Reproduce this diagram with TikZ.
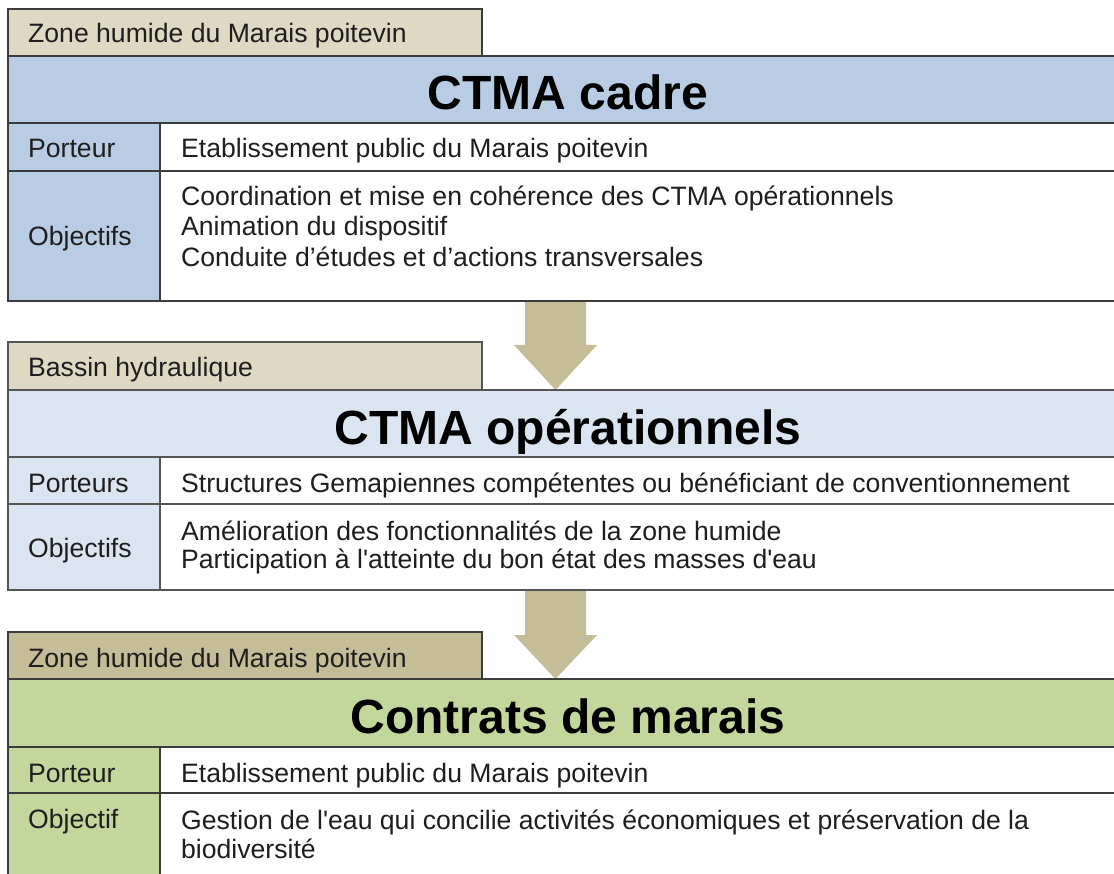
\documentclass[tikz,border=0pt]{standalone}
\usepackage{fontspec}
\setmainfont{Liberation Sans}[Ligatures=TeXOff]
\usetikzlibrary{calc}
\definecolor{tanA}{HTML}{DDD9C3}
\definecolor{tanB}{HTML}{C4BD97}
\definecolor{blueA}{HTML}{B8CCE4}
\definecolor{blueB}{HTML}{DBE5F1}
\definecolor{greenA}{HTML}{C3D69B}
\definecolor{arrowc}{HTML}{C4BD97}
\definecolor{linec}{HTML}{3C3C3C}
\definecolor{linec2}{HTML}{555555}
\definecolor{txt}{HTML}{1E1E1E}
\begin{document}
\begin{tikzpicture}[x=1pt,y=-1pt,
  box/.style={draw=linec, line width=1.8pt},
  box2/.style={draw=linec2, line width=1.8pt},
  lbl/.style={anchor=base west, inner sep=0pt, font=\fontsize{26.6}{30.5}\selectfont, text=txt},
  ttl/.style={anchor=base, inner sep=0pt, font=\fontsize{48}{52}\selectfont\bfseries, text=black},
  blockarrow/.style={fill=arrowc, draw=none},
]
\useasboundingbox (0,0) rectangle (1114,874);
\fill[white] (0,0) rectangle (1114,874);

% ---- arrows (drawn first, sections on top)
\coordinate (a1top) at (555.5,301);
\coordinate (a1tip) at (555.5,390);
\fill[blockarrow] ($(a1top)+(-30.5,0)$) -- ($(a1top)+(30.5,0)$) -- ($(a1top)+(30.5,44)$) -- ($(a1top)+(41.5,44)$) -- (a1tip) -- ($(a1top)+(-41.5,44)$) -- ($(a1top)+(-30.5,44)$) -- cycle;
\coordinate (a2top) at (555.5,590);
\coordinate (a2tip) at (555.5,679);
\fill[blockarrow] ($(a2top)+(-30.5,0)$) -- ($(a2top)+(30.5,0)$) -- ($(a2top)+(30.5,45)$) -- ($(a2top)+(41.5,45)$) -- (a2tip) -- ($(a2top)+(-41.5,45)$) -- ($(a2top)+(-30.5,45)$) -- cycle;

% ---- Section 1 : CTMA cadre
\draw[box, fill=tanA] (8,9) rectangle (482,56);
\draw[box, fill=blueA] (8,56) rectangle (1130,123);
\draw[box, fill=blueA] (8,123) rectangle (160,301);
\draw[box, fill=white] (160,123) rectangle (1130,171);
\draw[box, fill=white] (160,171) rectangle (1130,301);
\draw[box] (8,171) -- (160,171);
\node[lbl] (t1) at (28,43) {Zone humide du Marais poitevin};
\node[ttl] (h1) at (568,110) {CTMA cadre};
\node[lbl] (p1) at (28,158) {Porteur};
\node[lbl] (pv1) at (181,158) {Etablissement public du Marais poitevin};
\node[lbl] (o1) at (28,246) {Objectifs};
\node[lbl] (ov1a) at (181,206) {Coordination et mise en cohérence des CTMA opérationnels};
\node[lbl] (ov1b) at (181,236) {Animation du dispositif};
\node[lbl] (ov1c) at (181,267) {Conduite d’études et d’actions transversales};

% ---- Section 2 : CTMA opérationnels
\draw[box2, fill=tanA] (8,342) rectangle (482,390);
\draw[box2, fill=blueB] (8,390) rectangle (1130,457);
\draw[box2, fill=blueB] (8,457) rectangle (160,590);
\draw[box2, fill=white] (160,457) rectangle (1130,504);
\draw[box2, fill=white] (160,504) rectangle (1130,590);
\draw[box2] (8,504) -- (160,504);
\node[lbl] (t2) at (28,377) {Bassin hydraulique};
\node[ttl] (h2) at (568,445) {CTMA opérationnels};
\node[lbl] (p2) at (28,492) {Porteurs};
\node[lbl] (pv2) at (181,492) {Structures Gemapiennes compétentes ou bénéficiant de conventionnement};
\node[lbl] (o2) at (28,557) {Objectifs};
\node[lbl] (ov2a) at (181,540) {Amélioration des fonctionnalités de la zone humide};
\node[lbl] (ov2b) at (181,568) {Participation à l'atteinte du bon état des masses d'eau};

% ---- Section 3 : Contrats de marais
\draw[box, fill=tanB] (8,632) rectangle (482,679);
\draw[box, fill=greenA] (8,679) rectangle (1130,747);
\draw[box, fill=greenA] (8,747) rectangle (160,900);
\draw[box, fill=white] (160,747) rectangle (1130,793);
\draw[box, fill=white] (160,793) rectangle (1130,900);
\draw[box] (8,793) -- (160,793);
\node[lbl] (t3) at (28,667) {Zone humide du Marais poitevin};
\node[ttl] (h3) at (568,733) {Contrats de marais};
\node[lbl] (p3) at (28,782) {Porteur};
\node[lbl] (pv3) at (181,782) {Etablissement public du Marais poitevin};
\node[lbl] (o3) at (28,828) {Objectif};
\node[lbl] (ov3a) at (181,829) {Gestion de l'eau qui concilie activités économiques et préservation de la};
\node[lbl] (ov3b) at (181,858) {biodiversité};
\end{tikzpicture}
\end{document}
